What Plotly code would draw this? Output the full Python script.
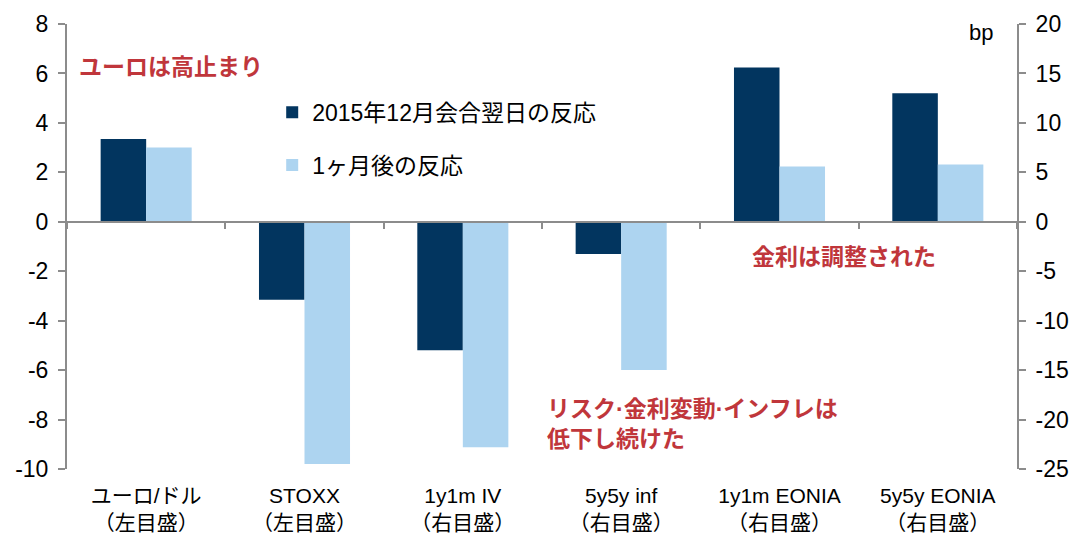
import plotly.graph_objects as go

# ---- data ----
categories = ["ユーロ/ドル<br>（左目盛）", "STOXX<br>（左目盛）", "1y1m IV<br>（右目盛）",
              "5y5y inf<br>（右目盛）", "1y1m EONIA<br>（右目盛）", "5y5y EONIA<br>（右目盛）"]
left_cats = categories[:2]
right_cats = categories[2:]
series_names = ["2015年12月会合翌日の反応", "1ヶ月後の反応"]
# left axis values (EUR/USD, STOXX)
day_after_left = [3.35, -3.15]
month_after_left = [3.0, -9.8]
# right axis values, bp (1y1m IV, 5y5y inf, 1y1m EONIA, 5y5y EONIA)
day_after_right = [-13.0, -3.25, 15.6, 13.0]
month_after_right = [-22.8, -15.0, 5.6, 5.8]

left_ticks = [-10, -8, -6, -4, -2, 0, 2, 4, 6, 8]
right_ticks = [-25, -20, -15, -10, -5, 0, 5, 10, 15, 20]

DARK = "#02355F"
LIGHT = "#ADD4F0"
RED = "#C0363B"
GRAY = "#8C8C8C"
FONT = "Liberation Sans, Arial, Noto Sans CJK JP, sans-serif"
BW = 0.2875

fig = go.Figure()
fig.add_bar(x=left_cats, y=day_after_left, name=series_names[0], marker_color=DARK,
            marker_line_width=0, width=BW, offset=-BW, legendgroup="a", yaxis="y")
fig.add_bar(x=left_cats, y=month_after_left, name=series_names[1], marker_color=LIGHT,
            marker_line_width=0, width=BW, offset=0, legendgroup="b", yaxis="y")
fig.add_bar(x=right_cats, y=day_after_right, name=series_names[0], marker_color=DARK,
            marker_line_width=0, width=BW, offset=-BW, legendgroup="a", showlegend=False, yaxis="y2")
fig.add_bar(x=right_cats, y=month_after_right, name=series_names[1], marker_color=LIGHT,
            marker_line_width=0, width=BW, offset=0, legendgroup="b", showlegend=False, yaxis="y2")
# invisible trace to carry the zero-crossing category axis
fig.add_scatter(x=categories, y=[0] * len(categories), mode="markers", marker_opacity=0,
                xaxis="x3", yaxis="y", showlegend=False, hoverinfo="skip")

zero_pos = (0 - left_ticks[0]) / (left_ticks[-1] - left_ticks[0])

fig.update_layout(
    width=1076, height=539,
    margin=dict(l=67, r=59, t=24, b=70, autoexpand=False),
    plot_bgcolor="white", paper_bgcolor="white",
    font=dict(family=FONT, size=21, color="black"),
    barmode="overlay",
    xaxis=dict(type="category", categoryorder="array", categoryarray=categories,
               showline=False, ticks="", showgrid=False, zeroline=False, automargin=False,
               tickfont=dict(size=21), range=[-0.5, 5.5], ticklabelstandoff=12),
    xaxis3=dict(type="category", overlaying="x", matches="x", anchor="free", position=zero_pos,
                showline=True, linecolor=GRAY, linewidth=2, ticks="outside", ticklen=6,
                tickcolor=GRAY, tickwidth=2, tickson="boundaries", showticklabels=False,
                showgrid=False, zeroline=False, automargin=False),
    yaxis=dict(range=[left_ticks[0], left_ticks[-1]], tickvals=left_ticks,
               ticktext=[str(v) for v in left_ticks], showgrid=False, automargin=False,
               zeroline=False, showline=True, linecolor=GRAY, linewidth=2, ticks="outside",
               ticklen=7, tickcolor=GRAY, tickwidth=2, tickfont=dict(size=23),
               ticklabelstandoff=5),
    yaxis2=dict(range=[right_ticks[0], right_ticks[-1]], tickvals=right_ticks,
                ticktext=[str(v) for v in right_ticks], overlaying="y", automargin=False,
                side="right", showgrid=False, zeroline=False, showline=True, linecolor=GRAY,
                linewidth=2, ticks="outside", ticklen=7, tickcolor=GRAY, tickwidth=2,
                tickfont=dict(size=23), ticklabelstandoff=5),
    legend=dict(x=0.216, y=0.85, xanchor="left", yanchor="top", bgcolor="rgba(0,0,0,0)",
                font=dict(size=23), tracegroupgap=20),
    showlegend=True,
)

fig.add_annotation(text="bp", xref="paper", yref="paper", x=0.977, y=0.98, showarrow=False,
                   xanchor="right", yanchor="middle", font=dict(size=22, color="black"))
fig.add_annotation(text="<b>ユーロは高止まり</b>", xref="paper", yref="paper", x=0.011, y=0.903,
                   showarrow=False, xanchor="left", yanchor="middle", font=dict(size=23, color=RED))
fig.add_annotation(text="<b>金利は調整された</b>", xref="paper", yref="paper", x=0.719, y=0.476,
                   showarrow=False, xanchor="left", yanchor="middle", font=dict(size=23, color=RED))
fig.add_annotation(text="<b>リスク·金利変動·インフレは<br>低下し続けた</b>", xref="paper", yref="paper",
                   x=0.503, y=0.101, showarrow=False, xanchor="left", yanchor="middle", align="left",
                   font=dict(size=23, color=RED))

fig.write_html("out.html", config={"displayModeBar": False},
               post_script="document.body.style.margin='0';")
